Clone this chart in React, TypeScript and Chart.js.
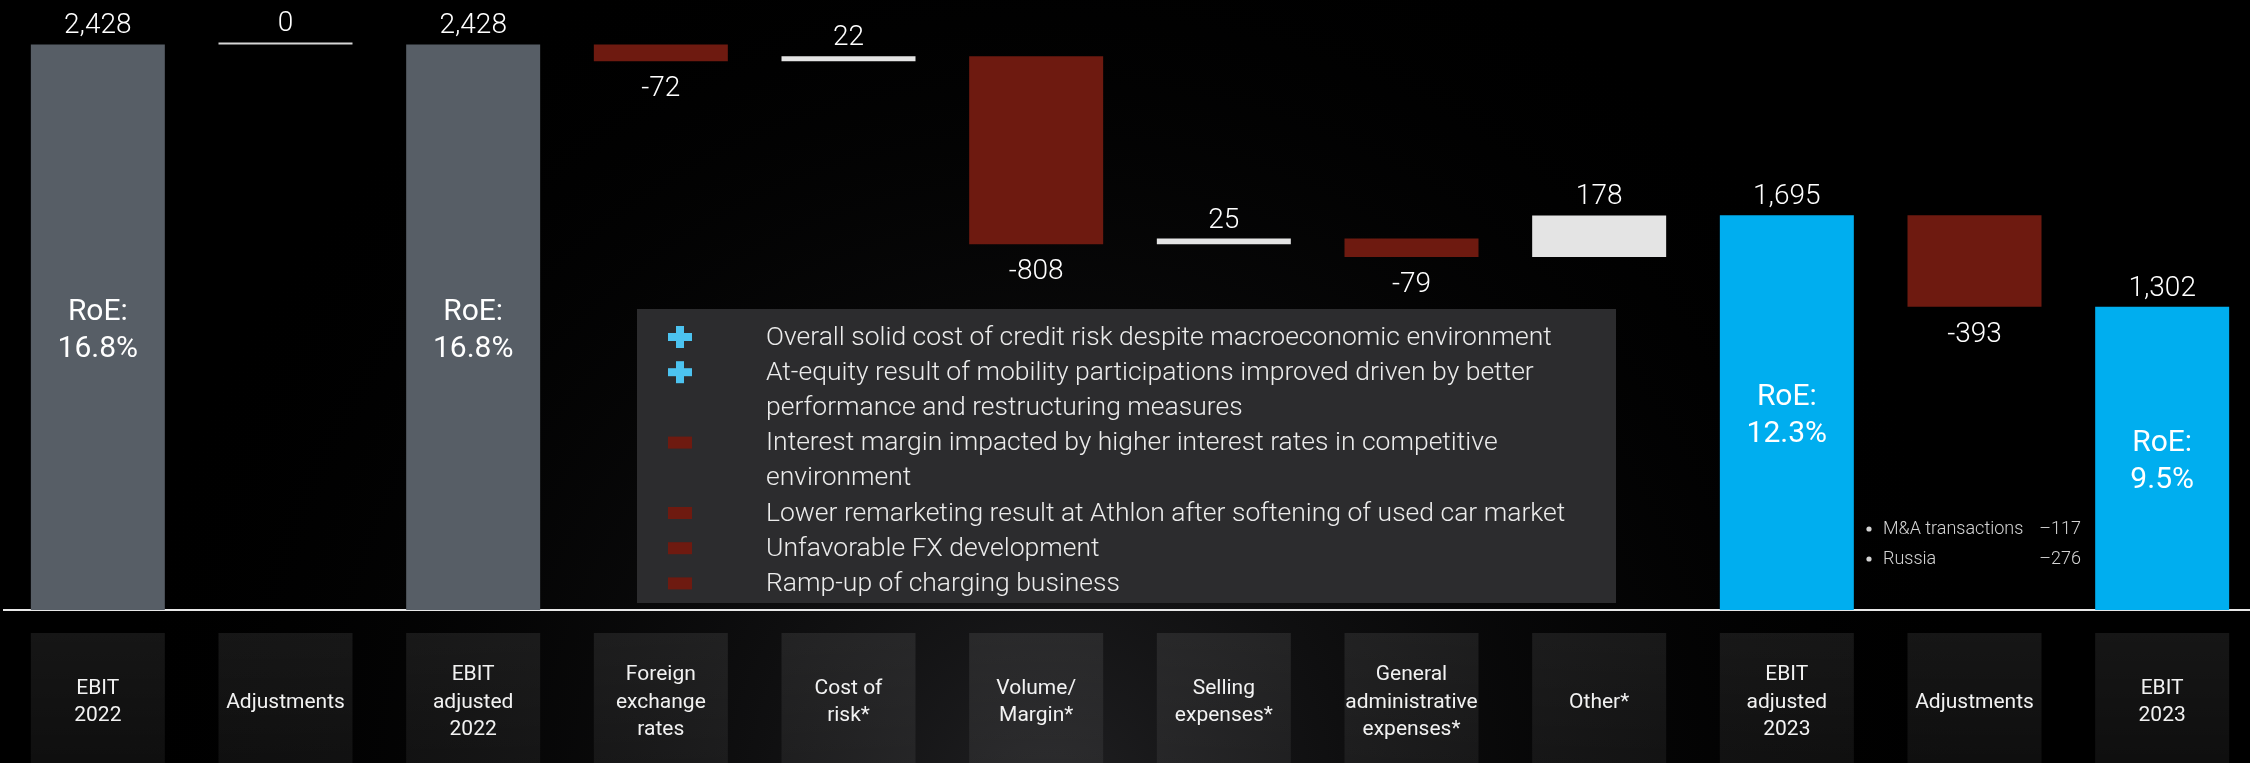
import React, { useEffect, useRef } from 'react';
import { Chart, registerables } from 'chart.js';

Chart.register(...registerables);

// ---------- DATA ----------
const categories: string[][] = [
  ['EBIT', '2022'],
  ['Adjustments'],
  ['EBIT', 'adjusted', '2022'],
  ['Foreign', 'exchange', 'rates'],
  ['Cost of', 'risk*'],
  ['Volume/', 'Margin*'],
  ['Selling', 'expenses*'],
  ['General', 'administrative', 'expenses*'],
  ['Other*'],
  ['EBIT', 'adjusted', '2023'],
  ['Adjustments'],
  ['EBIT', '2023'],
];
const values: number[] = [2428, 0, 2428, -72, 22, -808, 25, -79, 178, 1695, -393, 1302];
// 'total22' | 'total23' | 'delta'
const kinds: string[] = [
  'total22', 'delta', 'total22', 'delta', 'delta', 'delta',
  'delta', 'delta', 'delta', 'total23', 'delta', 'total23',
];
const roeLabels: string[] = ['16.8%', '', '16.8%', '', '', '', '', '', '', '12.3%', '', '9.5%'];

const noteLines: string[] = [
  'Overall solid cost of credit risk despite macroeconomic environment',
  'At-equity result of mobility participations improved driven by better',
  'performance and restructuring measures',
  'Interest margin impacted by higher interest rates in competitive',
  'environment',
  'Lower remarketing result at Athlon after softening of used car market',
  'Unfavorable FX development',
  'Ramp-up of charging business',
];
const noteMarks: string[] = ['plus', 'plus', '', 'minus', '', 'minus', 'minus', 'minus'];

const adjustmentItems: string[] = ['M&A transactions', 'Russia'];
const adjustmentValues: string[] = ['\u2013117', '\u2013276'];

// ---------- STYLE ----------
const FONT = "Roboto, 'Noto Sans', sans-serif";
const COLORS: Record<string, string> = {
  total22: '#575e66',
  total23: '#00aeef',
  pos: '#e4e4e4',
  zero: '#d6d6d6',
  neg: '#6e1a10',
};

function buildFloating(): [number, number][] {
  const out: [number, number][] = [];
  let running = 0;
  values.forEach((v, i) => {
    if (kinds[i] !== 'delta') {
      out.push([0, v]);
      running = v;
    } else {
      out.push([running, running + v]);
      running += v;
    }
  });
  return out;
}

function barColor(i: number): string {
  const k = kinds[i];
  if (k !== 'delta') return COLORS[k];
  const v = values[i];
  if (v === 0) return COLORS.zero;
  return v > 0 ? COLORS.pos : COLORS.neg;
}

const backgroundPlugin = {
  id: 'bgBoxes',
  beforeDraw(chart: any) {
    const { ctx, width, height } = chart;
    ctx.save();
    ctx.fillStyle = '#000';
    ctx.fillRect(0, 0, width, height);
    const g = ctx.createRadialGradient(1050, 800, 30, 1050, 800, 950);
    g.addColorStop(0, 'rgba(30,30,32,1)');
    g.addColorStop(1, 'rgba(0,0,0,0)');
    ctx.fillStyle = g;
    ctx.fillRect(0, 0, width, height);
    const meta = chart.getDatasetMeta(0);
    const top = chart.chartArea.bottom + 23;
    meta.data.forEach((bar: any) => {
      const w = bar.width;
      const lg = ctx.createLinearGradient(0, top, 0, height);
      lg.addColorStop(0, 'rgba(255,255,255,0.085)');
      lg.addColorStop(1, 'rgba(255,255,255,0.06)');
      ctx.fillStyle = lg;
      ctx.fillRect(bar.x - w / 2, top, w, height - top);
    });
    ctx.restore();
  },
};

const labelsPlugin = {
  id: 'wfLabels',
  afterDatasetsDraw(chart: any) {
    const { ctx } = chart;
    const meta = chart.getDatasetMeta(0);
    ctx.save();
    ctx.fillStyle = '#ffffff';
    ctx.textAlign = 'center';
    meta.data.forEach((bar: any, i: number) => {
      const v = values[i];
      const top = Math.min(bar.y, bar.base);
      const bottom = Math.max(bar.y, bar.base);
      ctx.font = `300 28px ${FONT}`;
      ctx.textBaseline = 'alphabetic';
      const text = v.toLocaleString('en-US');
      if (v < 0) ctx.fillText(text, bar.x, bottom + 35);
      else ctx.fillText(text, bar.x, top - 11);
      if (roeLabels[i]) {
        const mid = (top + bottom) / 2;
        ctx.font = `400 30px ${FONT}`;
        ctx.textBaseline = 'middle';
        ctx.fillText('RoE:', bar.x, mid - 15);
        ctx.fillText(roeLabels[i], bar.x, mid + 22);
      }
    });

    // explanation box
    const bx = 637, by = 309, bw = 979, bh = 294;
    ctx.fillStyle = 'rgba(46,46,48,0.96)';
    ctx.fillRect(bx, by, bw, bh);
    ctx.textAlign = 'left';
    ctx.textBaseline = 'middle';
    ctx.font = `300 26.5px ${FONT}`;
    noteLines.forEach((line, i) => {
      const y = 337 + i * 35.2;
      const mark = noteMarks[i];
      const cx = 680;
      if (mark === 'plus') {
        ctx.fillStyle = '#4cc3f0';
        ctx.fillRect(cx - 12, y - 4, 24, 8);
        ctx.fillRect(cx - 4, y - 11, 8, 22);
      } else if (mark === 'minus') {
        ctx.fillStyle = '#6e1a10';
        ctx.fillRect(cx - 12, y - 6, 24, 12);
      }
      ctx.fillStyle = '#ececec';
      ctx.fillText(line, 766, y + 1);
    });

    // adjustments breakdown
    ctx.font = `300 18px ${FONT}`;
    ctx.fillStyle = '#d4d4d4';
    adjustmentItems.forEach((item, i) => {
      const y = 529 + i * 30;
      ctx.beginPath();
      ctx.arc(1869, y, 2.6, 0, Math.PI * 2);
      ctx.fill();
      ctx.textAlign = 'left';
      ctx.fillText(item, 1883, y);
      ctx.textAlign = 'right';
      ctx.fillText(adjustmentValues[i], 2081, y);
    });
    ctx.restore();
  },
};

export default function App() {
  const ref = useRef<HTMLCanvasElement | null>(null);
  useEffect(() => {
    document.body.style.margin = '0';
    document.body.style.background = '#000';
    document.body.style.overflow = 'hidden';
    document.documentElement.style.overflow = 'hidden';
    if (!ref.current) return;
    const chart = new Chart(ref.current, {
      type: 'bar',
      data: {
        labels: categories,
        datasets: [
          {
            data: buildFloating() as any,
            backgroundColor: values.map((_, i) => barColor(i)),
            borderWidth: 0,
            barPercentage: 0.714,
            categoryPercentage: 1,
            minBarLength: 2,
          },
        ],
      },
      options: {
        responsive: false,
        animation: false,
        devicePixelRatio: 1,
        layout: { padding: { left: 4, right: 6, top: 0, bottom: 0 } },
        plugins: { legend: { display: false }, tooltip: { enabled: false } },
        scales: {
          x: {
            grid: { display: false },
            border: { display: true, color: '#e8e8e8', width: 2 },
            ticks: {
              color: '#f2f2f2',
              font: { family: FONT, size: 21, lineHeight: 1.3 },
              padding: 57,
              crossAlign: 'center',
              maxRotation: 0,
              autoSkip: false,
            },
            afterFit: (s: any) => {
              s.height = 153;
            },
          },
          y: { display: false, min: 0, max: 2619 },
        },
      },
      plugins: [backgroundPlugin, labelsPlugin],
    } as any);
    return () => chart.destroy();
  }, []);
  return (
    <div style={{ position: 'relative', width: 2262, height: 763, overflow: 'hidden' }}>
      <canvas ref={ref} width={2262} height={763} style={{ display: 'block', width: 2262, height: 763 }} />
    </div>
  );
}
